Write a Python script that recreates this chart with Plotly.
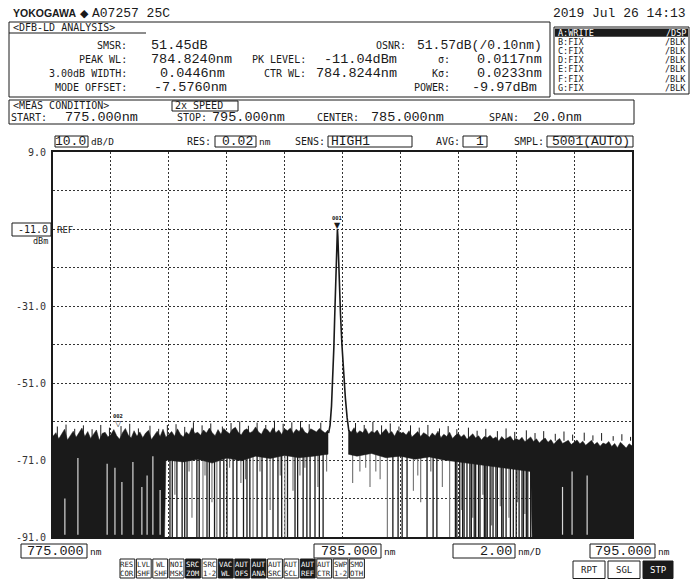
import numpy as np
import plotly.graph_objects as go

# ---------------- data ----------------
START_WL, STOP_WL = 775.0, 795.0
TOP_DB, BOTTOM_DB = 9.0, -91.0
x_tickvals = [775, 777, 779, 781, 783, 785, 787, 789, 791, 793, 795]
y_tickvals = [9, -1, -11, -21, -31, -41, -51, -61, -71, -81, -91]
y_ticktext = ['9.0', '', '', '', '-31.0', '', '-51.0', '', '-71.0', '', '-91.0']

PEAK_WL = 784.824
PEAK_LEVEL = -11.04
MARK2_WL = 777.248
MARK2_LEVEL = -62.49

# noise floor top edge, left of the peak (775.0 .. 784.5 nm, 0.1 nm steps)
noise_left_top = [
    -64.8, -63.9, -65.5, -64.2, -63.0, -65.8, -64.6, -63.5, -65.1, -64.0, -62.7,
    -64.9, -63.6, -65.4, -64.3, -63.2, -65.9, -64.1, -63.8, -65.0, -64.4,
    -63.1, -64.7, -65.6, -63.9, -62.8, -64.5, -65.3, -63.4, -64.8, -63.7,
    -65.2, -64.0, -63.3, -65.7, -64.6, -63.5, -64.9, -63.0, -65.1, -64.2,
    -63.6, -64.8, -62.9, -64.3, -65.0, -63.7, -64.4, -62.6, -64.1, -63.8,
    -64.6, -63.2, -64.0, -62.7, -63.9, -64.7, -63.1, -64.3, -62.8, -63.6,
    -64.2, -63.0, -62.5, -63.8, -64.5, -63.3, -62.9, -64.0, -63.5, -62.4,
    -63.7, -64.3, -62.8, -63.1, -64.0, -62.6, -63.9, -63.2, -64.4, -62.9,
    -63.4, -62.7, -64.1, -63.0, -63.6, -62.5, -63.8, -64.2, -62.9, -63.3,
    -63.7, -62.8, -63.5, -64.0, -63.2]
# noise floor top edge, right of the peak (785.2 .. 795.0 nm, 0.1 nm steps)
noise_right_top = [
    -63.0, -63.8, -62.6, -64.1, -63.4, -63.9, -62.8, -64.3, -63.5,
    -64.0, -63.2, -64.6, -63.7, -62.9, -64.2, -63.6, -64.8, -63.3, -64.1,
    -63.8, -64.5, -63.4, -65.0, -64.2, -63.6, -64.9, -63.9, -64.4, -65.1,
    -64.0, -64.7, -63.5, -65.2, -64.3, -64.9, -63.8, -65.4, -64.6, -64.1,
    -65.0, -64.4, -65.6, -64.8, -64.2, -65.3, -64.7, -65.8, -64.9, -65.2,
    -64.6, -65.5, -65.0, -66.1, -64.9, -65.7, -65.2, -64.8, -66.0, -65.4,
    -65.9, -65.1, -66.3, -65.6, -65.0, -66.2, -65.5, -66.6, -65.8, -65.3,
    -66.4, -65.7, -66.9, -66.0, -65.4, -66.7, -66.2, -65.9, -67.0, -66.3,
    -65.8, -66.8, -66.1, -67.2, -66.5, -65.9, -67.0, -66.4, -67.4, -66.6,
    -66.9, -66.2, -67.5, -66.7, -67.8, -66.4, -67.1, -67.9, -66.8, -67.3]
noise_left_wl = np.round(np.linspace(775.0, 784.5, len(noise_left_top)), 3)
noise_right_wl = np.round(np.linspace(785.2, 795.0, len(noise_right_top)), 3)

# narrow upward noise spikes above the floor
spike_wl = [775.15, 775.45, 775.75, 776.05, 776.35, 776.65, 776.95, 777.35, 777.65, 777.95,
            778.35, 778.65, 778.95, 779.25, 779.55, 779.85, 780.15, 780.45, 780.85, 781.15,
            781.45, 781.75, 782.05, 782.35, 782.65, 782.95, 783.25, 783.55, 783.85, 784.25,
            785.45, 785.75, 786.05, 786.35, 786.65, 786.95, 787.35, 787.65, 787.95, 788.35,
            788.65, 788.95, 789.35, 789.65, 789.95, 790.35, 790.65, 790.95, 791.35, 791.65,
            791.95, 792.35, 792.65, 792.95, 793.35, 793.65, 793.95, 794.35, 794.65, 794.95]
spike_db = [-62.3, -61.8, -62.9, -62.0, -63.0, -61.9, -62.6, -62.2, -61.6, -62.8,
            -62.1, -62.9, -61.9, -61.7, -62.4, -61.2, -62.0, -61.5, -62.3, -61.4,
            -61.0, -62.1, -61.3, -61.9, -60.8, -61.6, -61.2, -60.9, -61.7, -61.3,
            -61.4, -61.9, -61.1, -62.0, -61.5, -62.3, -62.0, -62.6, -61.9, -62.8,
            -62.2, -63.0, -62.6, -63.4, -62.9, -63.5, -62.8, -63.7, -63.3, -64.0,
            -63.5, -64.2, -63.6, -64.4, -63.9, -64.6, -64.0, -64.8, -64.3, -65.0]

# lower edge of the dense noise band
band_left_wl = [775.0, 778.85, 778.9, 779.5, 780.0, 780.5, 781.0, 781.5, 782.0, 782.5, 783.0, 783.5, 784.0, 784.5]
band_left_db = [-91.0, -91.0, -71.0, -71.5, -70.8, -71.8, -70.5, -71.2, -70.0, -70.6, -69.8, -70.4, -70.0, -69.5]
band_right_wl = [785.2, 785.5, 786.0, 786.5, 787.0, 787.5, 788.0, 788.5, 789.0, 789.5, 790.0, 790.5, 791.0, 791.5, 791.55, 795.0]
band_right_db = [-69.5, -70.0, -69.3, -70.4, -70.0, -70.8, -70.2, -71.0, -71.5, -72.0, -72.5, -73.0, -73.5, -74.0, -91.0, -91.0]

# dropouts reaching the bottom of the screen (black)
drop_black_wl = [779.04, 779.12, 779.28, 779.46, 779.55, 779.63, 779.97, 780.05, 780.32, 780.40, 780.58,
                 780.77, 780.90, 781.01, 781.22, 781.35, 781.58, 781.70, 781.80,
                 782.05, 782.22, 782.39, 782.60, 782.77, 782.90, 783.10, 783.36, 783.45, 783.64,
                 783.77, 783.88, 784.05, 784.20, 784.33,
                 786.74, 786.92, 787.06, 787.23, 787.92, 788.13, 788.26,
                 788.90, 788.95, 789.05, 789.15, 789.20, 789.30, 789.40, 789.45, 789.55, 789.60,
                 789.70, 789.75, 789.90, 789.95, 790.00, 790.10, 790.20, 790.30, 790.35, 790.50,
                 790.55, 790.65, 790.80, 790.90, 791.00, 791.10, 791.20, 791.25, 791.35, 791.40, 791.50]
# partial dips (grey)
drop_grey_wl = [779.21, 779.80, 780.18, 780.49, 780.66, 781.49, 781.91, 782.50, 783.01, 783.29, 783.53, 784.15, 784.45,
                785.35, 785.60, 785.95, 786.30, 786.55, 787.45, 787.70, 788.45, 788.70, 789.12, 789.50, 789.85,
                790.15, 790.45, 790.75, 791.05, 791.30,
                779.70, 780.25, 781.10, 781.65, 782.15, 782.85, 783.70, 785.80, 786.15, 787.60, 788.05]
drop_grey_db = [-80, -86, -91, -82, -91, -77, -91, -84, -91, -79, -75, -78, -74,
                -77, -74, -78, -76, -91, -79, -82, -78, -91, -84, -86, -80,
                -88, -83, -86, -82, -85,
                -74, -75, -73, -76, -74, -75, -73, -73, -74, -75, -74]
# light gaps inside the solid noise regions
gap_wl = [775.41, 775.86, 776.87, 777.14, 777.38, 777.76, 778.07, 778.25, 778.45, 778.70, 792.60, 792.93, 793.45]
gap_db = [-81.0, -70.5, -72.0, -73.0, -76.7, -71.5, -78.0, -75.0, -70.0, -78.8, -78.0, -74.0, -75.0]

# DFB peak profile
peak_wl = [784.52, 784.57, 784.62, 784.66, 784.70, 784.73, 784.76, 784.79, 784.81, 784.824,
           784.84, 784.86, 784.89, 784.93, 784.98, 785.04, 785.10, 785.16, 785.22]
peak_db = [-64.0, -62.0, -57.0, -51.0, -42.0, -34.0, -26.0, -18.0, -13.0, -11.04,
           -13.0, -18.0, -26.0, -33.0, -41.0, -49.0, -55.0, -60.0, -63.5]

# ---------------- layout geometry (screen pixels) ----------------
W, H = 691, 579
PL, PR, PT, PB = 53, 632, 152, 537


def X(px):
    return (px - PL) / (PR - PL)


def Y(py):
    return (PB - py) / (PB - PT)


SMALL = 'DejaVu Sans Mono'
VAL = 'Liberation Mono'
INK = '#1a1a1a'

ann = []
shp = []


def T(x, y, s, font=SMALL, size=10, anchor='left', color=INK):
    ann.append(dict(x=X(x), y=Y(y), xref='paper', yref='paper', text=s, showarrow=False,
                    xanchor=anchor, yanchor='middle', borderpad=0,
                    font=dict(family=font, size=size, color=color)))


def R(x0, y0, x1, y1, fill='rgba(0,0,0,0)', lw=1):
    shp.append(dict(type='rect', xref='paper', yref='paper', x0=X(x0), x1=X(x1), y0=Y(y1), y1=Y(y0),
                    line=dict(color=INK, width=lw), fillcolor=fill, layer='above'))


def L(x0, y0, x1, y1, lw=1):
    shp.append(dict(type='line', xref='paper', yref='paper', x0=X(x0), x1=X(x1), y0=Y(y0), y1=Y(y1),
                    line=dict(color=INK, width=lw), layer='above'))


# header
T(12, 13, '<b>YOKOGAWA</b>', 'Liberation Sans', 10.5)
T(79, 13, '◆', 'DejaVu Sans', 11)
T(91, 13, 'A07257 25C', VAL, 13)
T(687, 13, '2019 Jul 26 14:13', VAL, 13, 'right')

# analysis box
R(9, 22, 550, 97)
L(9, 33, 146, 33)
T(12, 28, '&lt;DFB-LD ANALYSIS&gt;', SMALL, 10)
rows = [45.5, 59.5, 73.5, 87.5]
for lab, y in zip(['SMSR:', 'PEAK WL:', '3.00dB WIDTH:', 'MODE OFFSET:'], rows):
    T(128, y, lab, SMALL, 10, 'right')
for (v, x), y in zip([('51.45dB', 150), ('784.8240nm', 150), ('0.0446nm', 159), ('-7.5760nm', 153)], rows):
    T(x, y, v, VAL, 13.5)
T(307, rows[1], 'PK LEVEL:', SMALL, 10, 'right')
T(398, rows[1], '-11.04dBm', VAL, 13.5, 'right')
T(307, rows[2], 'CTR WL:', SMALL, 10, 'right')
T(398, rows[2], '784.8244nm', VAL, 13.5, 'right')
T(407, rows[0], 'OSNR:', SMALL, 10, 'right')
T(543, rows[0], '51.57dB(/0.10nm)', VAL, 13, 'right')
T(451, rows[1], 'σ:', SMALL, 10, 'right')
T(543, rows[1], '0.0117nm', VAL, 13.5, 'right')
T(451, rows[2], 'Kσ:', SMALL, 10, 'right')
T(543, rows[2], '0.0233nm', VAL, 13.5, 'right')
T(451, rows[3], 'POWER:', SMALL, 10, 'right')
T(538, rows[3], '-9.97dBm', VAL, 13.5, 'right')

# trace list box
R(554, 27, 689, 94)
R(555, 28.5, 688, 36.8, fill=INK, lw=0)
trace_rows = [('A:WRITE', '/DSP'), ('B:FIX', '/BLK'), ('C:FIX', '/BLK'), ('D:FIX', '/BLK'),
              ('E:FIX', '/BLK'), ('F:FIX', '/BLK'), ('G:FIX', '/BLK')]
for i, (a, b) in enumerate(trace_rows):
    y = 32.6 + i * 9.2
    c = 'white' if i == 0 else INK
    T(557, y, a, SMALL, 8.5, 'left', c)
    T(687, y, b, SMALL, 8.5, 'right', c)

# measurement condition box
R(9, 100, 634, 124)
T(12, 106, '&lt;MEAS CONDITION&gt;', SMALL, 10)
R(172, 101, 238, 111)
T(174, 106, '2x SPEED', SMALL, 10)
for lab, lx, val, vx in [('START:', 10, '775.000nm', 64), ('STOP:', 176, '795.000nm', 211),
                         ('CENTER:', 316, '785.000nm', 370), ('SPAN:', 488, '20.0nm', 532)]:
    T(lx, 118, lab, SMALL, 10)
    T(vx, 117, val, VAL, 13.5)

# settings row
ys = 141.5
R(55, 136, 88, 147)
T(87, ys, '10.0', VAL, 13, 'right')
T(90, ys, 'dB/D', SMALL, 9.5)
T(212, ys, 'RES:', SMALL, 10, 'right')
R(215, 136, 256, 147)
T(254, ys, '0.02', VAL, 13, 'right')
T(258, ys, 'nm', SMALL, 9.5)
T(326, ys, 'SENS:', SMALL, 10, 'right')
R(328, 136, 412, 147)
T(330, ys, 'HIGH1', VAL, 13)
T(461, ys, 'AVG:', SMALL, 10, 'right')
R(463, 136, 487, 147)
T(485, ys, '1', VAL, 13, 'right')
T(545, ys, 'SMPL:', SMALL, 10, 'right')
R(547, 136, 633, 147)
T(631, ys, '5001(AUTO)', VAL, 13, 'right')

# reference level
R(12, 223, 51, 236)
T(49, 229.5, '-11.0', SMALL, 10, 'right')
T(56, 229.5, 'REF', SMALL, 9)
T(49, 241, 'dBm', SMALL, 8.5, 'right')

# bottom wavelength row
yb = 551
for bx0, bx1, v, unit in [(21, 87, '775.000', 'nm'), (314, 381, '785.000', 'nm'),
                          (453, 515, '2.00', 'nm/D'), (590, 655, '795.000', 'nm')]:
    R(bx0, 544, bx1, 558)
    T(bx1 - 2, yb, v, VAL, 13.5, 'right')
    T(bx1 + 2, yb, unit, SMALL, 9.5)

# soft keys
btn_labels = ['RES<br>COR', 'LVL<br>SHF', 'WL<br>SHF', 'NOI<br>MSK', 'SRC<br>ZOM', 'SRC<br>1-2', 'VAC<br>WL',
              'AUT<br>OFS', 'AUT<br>ANA', 'AUT<br>SRC', 'AUT<br>SCL', 'AUT<br>REF', 'AUT<br>CTR', 'SWP<br>1-2',
              'SMO<br>OTH']
btn_dark = [4, 6, 7, 8, 11]
for i, lab in enumerate(btn_labels):
    bx = 120 + i * 16.4
    dark = i in btn_dark
    R(bx, 559, bx + 14.8, 578, fill=INK if dark else 'rgba(0,0,0,0)')
    ann.append(dict(x=X(bx + 7.4), y=Y(568.5), xref='paper', yref='paper', text=lab, showarrow=False,
                    xanchor='center', yanchor='middle', borderpad=0,
                    font=dict(family=SMALL, size=7.3, color='white' if dark else INK)))
for bx0, bx1, lab, dark in [(573, 605, 'RPT', False), (608, 640, 'SGL', False), (643, 673, 'STP', True)]:
    R(bx0, 561, bx1, 578.5, fill=INK if dark else 'rgba(0,0,0,0)')
    ann.append(dict(x=X((bx0 + bx1) / 2), y=Y(570), xref='paper', yref='paper', text=lab, showarrow=False,
                    xanchor='center', yanchor='middle', borderpad=0,
                    font=dict(family=SMALL, size=9, color='white' if dark else INK)))

# markers (data coordinates)
ann.append(dict(x=PEAK_WL, y=PEAK_LEVEL, xref='x', yref='y', text='▼', showarrow=False,
                xanchor='center', yanchor='bottom', borderpad=0, yshift=-2,
                font=dict(family='DejaVu Sans', size=8, color=INK)))
ann.append(dict(x=PEAK_WL, y=PEAK_LEVEL, xref='x', yref='y', text='<b>001</b>', showarrow=False,
                xanchor='center', yanchor='bottom', borderpad=0, yshift=7,
                font=dict(family=SMALL, size=5.5, color=INK)))
ann.append(dict(x=MARK2_WL, y=MARK2_LEVEL, xref='x', yref='y', text='▽', showarrow=False,
                xanchor='center', yanchor='bottom', borderpad=0, yshift=-2,
                font=dict(family='DejaVu Sans', size=8, color=INK)))
ann.append(dict(x=MARK2_WL, y=MARK2_LEVEL, xref='x', yref='y', text='<b>002</b>', showarrow=False,
                xanchor='center', yanchor='bottom', borderpad=0, yshift=7,
                font=dict(family=SMALL, size=5.5, color=INK)))

# ---------------- traces ----------------
fig = go.Figure()


def vlines(wls, tops, bottoms):
    xs, ys_ = [], []
    for w, t, b in zip(wls, tops, bottoms):
        xs += [w, w, None]
        ys_ += [t, b, None]
    return xs, ys_


# dips drawn first (band covers their upper ends)
gx, gy = vlines(drop_grey_wl, [-66.0] * len(drop_grey_wl), drop_grey_db)
fig.add_trace(go.Scatter(x=gx, y=gy, mode='lines', line=dict(color='#7a7a7a', width=1.2), hoverinfo='skip'))
bx_, by_ = vlines(drop_black_wl, [-66.0] * len(drop_black_wl), [BOTTOM_DB] * len(drop_black_wl))
fig.add_trace(go.Scatter(x=bx_, y=by_, mode='lines', line=dict(color=INK, width=1.3), hoverinfo='skip'))

# spikes
sx, sy = vlines(spike_wl, spike_db, [-66.0] * len(spike_wl))
fig.add_trace(go.Scatter(x=sx, y=sy, mode='lines', line=dict(color=INK, width=1), hoverinfo='skip'))

# dense noise bands
fig.add_trace(go.Scatter(x=list(noise_left_wl) + band_left_wl[::-1], y=noise_left_top + band_left_db[::-1],
                         mode='lines', fill='toself', fillcolor=INK, line=dict(color=INK, width=0.5),
                         hoverinfo='skip'))
fig.add_trace(go.Scatter(x=list(noise_right_wl) + band_right_wl[::-1], y=noise_right_top + band_right_db[::-1],
                         mode='lines', fill='toself', fillcolor=INK, line=dict(color=INK, width=0.5),
                         hoverinfo='skip'))

# light gaps
wx, wy = vlines(gap_wl, gap_db, [BOTTOM_DB + 0.6] * len(gap_wl))
fig.add_trace(go.Scatter(x=wx, y=wy, mode='lines', line=dict(color='#d8d8d8', width=1.2), hoverinfo='skip'))

# peak
fig.add_trace(go.Scatter(x=peak_wl, y=peak_db, mode='lines', line=dict(color=INK, width=1.6), hoverinfo='skip'))

fig.update_layout(
    width=W, height=H, showlegend=False,
    margin=dict(l=PL, r=W - PR, t=PT, b=H - PB, pad=0),
    paper_bgcolor='white', plot_bgcolor='white',
    annotations=ann, shapes=shp,
    xaxis=dict(range=[START_WL, STOP_WL], tickvals=x_tickvals, showticklabels=False, ticks='',
               showgrid=True, gridcolor='#333333', gridwidth=1, griddash='2px,2px', zeroline=False,
               showline=True, mirror=True, linecolor=INK, linewidth=2, fixedrange=True),
    yaxis=dict(range=[BOTTOM_DB, TOP_DB], tickvals=y_tickvals, ticktext=y_ticktext, ticks='',
               tickfont=dict(family=SMALL, size=10, color='#333333'), ticklabelstandoff=3,
               showgrid=True, gridcolor='#333333', gridwidth=1, griddash='2px,2px', zeroline=False,
               showline=True, mirror=True, linecolor=INK, linewidth=2, fixedrange=True),
)

fig.write_html("out.html", config={'displayModeBar': False},
               post_script="document.body.style.margin='0';document.body.style.overflow='hidden';")
